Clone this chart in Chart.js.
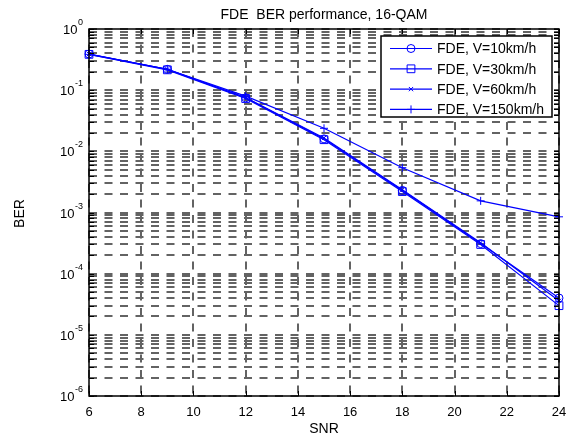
<!DOCTYPE html>
<html lang="en">
<head>
    <meta charset="UTF-8">
    <title>FDE BER performance, 16-QAM</title>
    <script src="https://cdn.jsdelivr.net/npm/chart.js"></script>
    <style>
        body {
            margin: 0;
            padding: 0;
            background-color: #ffffff;
        }
        canvas {
            display: block;
        }
    </style>
</head>
<body>
    <canvas id="berChart" width="578" height="437"></canvas>

    <script>
        // values
        const snr = [6, 9, 12, 15, 18, 21, 24];
        const ber10 = [0.39, 0.219, 0.075, 0.016, 0.0023, 0.00031, 0.00004];
        const ber30 = [0.385, 0.215, 0.073, 0.0155, 0.0022, 0.0003, 0.00003];
        const ber60 = [0.39, 0.22, 0.076, 0.0165, 0.00235, 0.00032, 0.000036];
        const ber150 = [0.385, 0.22, 0.08, 0.0238, 0.0054, 0.00155, 0.00085];
        const seriesLabels = ['FDE, V=10km/h', 'FDE, V=30km/h', 'FDE, V=60km/h', 'FDE, V=150km/h'];
        const xTickLabels = [6, 8, 10, 12, 14, 16, 18, 20, 22, 24];
        const yExponents = [0, -1, -2, -3, -4, -5, -6];

        const titleText = 'FDE  BER performance, 16-QAM';
        const xTitle = 'SNR';
        const yTitle = 'BER';

        const blue = '#0000ff';
        const markerStyles = [
            { pointStyle: 'circle', radius: 4 },
            { pointStyle: 'rect', radius: 5.5 },
            { pointStyle: 'crossRot', radius: 3 },
            { pointStyle: 'cross', radius: 4 }
        ];
        const FONT = '"Liberation Sans", Arial, sans-serif';

        function makeSet(label, values, m) {
            return {
                label: label,
                data: snr.map((x, i) => ({ x: x, y: values[i] })),
                borderColor: blue,
                borderWidth: 1.2,
                backgroundColor: 'rgba(0,0,0,0)',
                pointStyle: m.pointStyle,
                pointRadius: m.radius,
                pointBorderWidth: 1,
                pointBorderColor: blue,
                pointBackgroundColor: 'rgba(0,0,0,0)',
                tension: 0,
                fill: false,
                clip: false
            };
        }

        // MATLAB-ish frame, ticks, labels and legend
        const matlabDecor = {
            id: 'matlabDecor',
            afterDraw(chart) {
                const ctx = chart.ctx;
                const area = chart.chartArea;
                const xs = chart.scales.x;
                const ys = chart.scales.y;
                ctx.save();

                // inward tick marks
                ctx.strokeStyle = '#000';
                ctx.lineWidth = 1;
                ctx.beginPath();
                ys.ticks.forEach(t => {
                    const y = Math.round(ys.getPixelForValue(t.value)) + 0.5;
                    ctx.moveTo(area.left, y); ctx.lineTo(area.left + 5, y);
                    ctx.moveTo(area.right, y); ctx.lineTo(area.right - 5, y);
                });
                xTickLabels.forEach(v => {
                    const x = Math.round(xs.getPixelForValue(v)) + 0.5;
                    ctx.moveTo(x, area.bottom); ctx.lineTo(x, area.bottom - 5);
                    ctx.moveTo(x, area.top); ctx.lineTo(x, area.top + 5);
                });
                ctx.stroke();

                // axes box
                ctx.lineWidth = 1.5;
                ctx.strokeRect(area.left, area.top, area.right - area.left, area.bottom - area.top);

                ctx.fillStyle = '#000';

                // x tick labels
                ctx.font = '13px ' + FONT;
                ctx.textAlign = 'center';
                ctx.textBaseline = 'alphabetic';
                xTickLabels.forEach(v => {
                    ctx.fillText(String(v), xs.getPixelForValue(v), area.bottom + 20);
                });

                // y tick labels 10^k
                yExponents.forEach(e => {
                    const y = ys.getPixelForValue(Math.pow(10, e));
                    const expStr = String(e);
                    ctx.font = '9px ' + FONT;
                    const ew = ctx.measureText(expStr).width;
                    const right = area.left - 6;
                    ctx.textAlign = 'left';
                    ctx.fillText(expStr, right - ew, y - 4);
                    ctx.font = '13px ' + FONT;
                    ctx.textAlign = 'right';
                    ctx.fillText('10', right - ew - 0.5, y + 5);
                });

                // titles
                ctx.font = '14px ' + FONT;
                ctx.textAlign = 'center';
                const cx = (area.left + area.right) / 2;
                ctx.fillText(titleText, cx, 19);
                ctx.fillText(xTitle, cx, 433);
                ctx.save();
                ctx.translate(20, (area.top + area.bottom) / 2 + 1);
                ctx.rotate(-Math.PI / 2);
                ctx.textBaseline = 'middle';
                ctx.fillText(yTitle, 0, 0);
                ctx.restore();

                // legend inside the axes, top right
                const lw = 171, lh = 81;
                const lx = area.right - 7 - lw;
                const ly = area.top + 7;
                ctx.fillStyle = '#fff';
                ctx.fillRect(lx, ly, lw, lh);
                ctx.strokeStyle = '#000';
                ctx.lineWidth = 1.5;
                ctx.strokeRect(lx, ly, lw, lh);

                ctx.font = '14px ' + FONT;
                ctx.textAlign = 'left';
                ctx.textBaseline = 'middle';
                chart.data.datasets.forEach((ds, i) => {
                    const yy = ly + 12.5 + i * 20.3;
                    ctx.strokeStyle = blue;
                    ctx.lineWidth = 1.2;
                    ctx.beginPath();
                    ctx.moveTo(lx + 9, yy);
                    ctx.lineTo(lx + 51, yy);
                    ctx.stroke();
                    ctx.lineWidth = 1;
                    ctx.fillStyle = 'rgba(0,0,0,0)';
                    Chart.helpers.drawPoint(ctx, {
                        pointStyle: ds.pointStyle,
                        radius: ds.pointRadius,
                        borderWidth: 1,
                        rotation: 0
                    }, lx + 30, yy);
                    ctx.fillStyle = '#000';
                    ctx.fillText(ds.label, lx + 56, yy + 1);
                });

                ctx.restore();
            }
        };

        const gridStyle = {
            color: '#636363',
            lineWidth: 2,
            drawTicks: false,
            tickLength: 0
        };

        new Chart(document.getElementById('berChart').getContext('2d'), {
            type: 'line',
            data: {
                datasets: [
                    makeSet(seriesLabels[0], ber10, markerStyles[0]),
                    makeSet(seriesLabels[1], ber30, markerStyles[1]),
                    makeSet(seriesLabels[2], ber60, markerStyles[2]),
                    makeSet(seriesLabels[3], ber150, markerStyles[3])
                ]
            },
            options: {
                responsive: false,
                animation: false,
                devicePixelRatio: 1,
                layout: {
                    padding: { left: 89, right: 19, top: 29, bottom: 41 }
                },
                plugins: {
                    legend: { display: false },
                    title: { display: false },
                    tooltip: { enabled: false }
                },
                scales: {
                    x: {
                        type: 'linear',
                        min: 6,
                        max: 24,
                        ticks: { display: false, stepSize: 2 },
                        grid: gridStyle,
                        border: { display: false, dash: [8, 7.5] }
                    },
                    y: {
                        type: 'logarithmic',
                        min: 1e-6,
                        max: 1,
                        afterBuildTicks: scale => {
                            const t = [];
                            for (let e = -6; e < 0; e++) {
                                for (let m = 1; m < 10; m++) {
                                    t.push({ value: m * Math.pow(10, e) });
                                }
                            }
                            t.push({ value: 1 });
                            scale.ticks = t;
                        },
                        ticks: { display: false },
                        grid: gridStyle,
                        border: { display: false, dash: [8, 7.5] }
                    }
                }
            },
            plugins: [matlabDecor]
        });
    </script>
</body>
</html>
